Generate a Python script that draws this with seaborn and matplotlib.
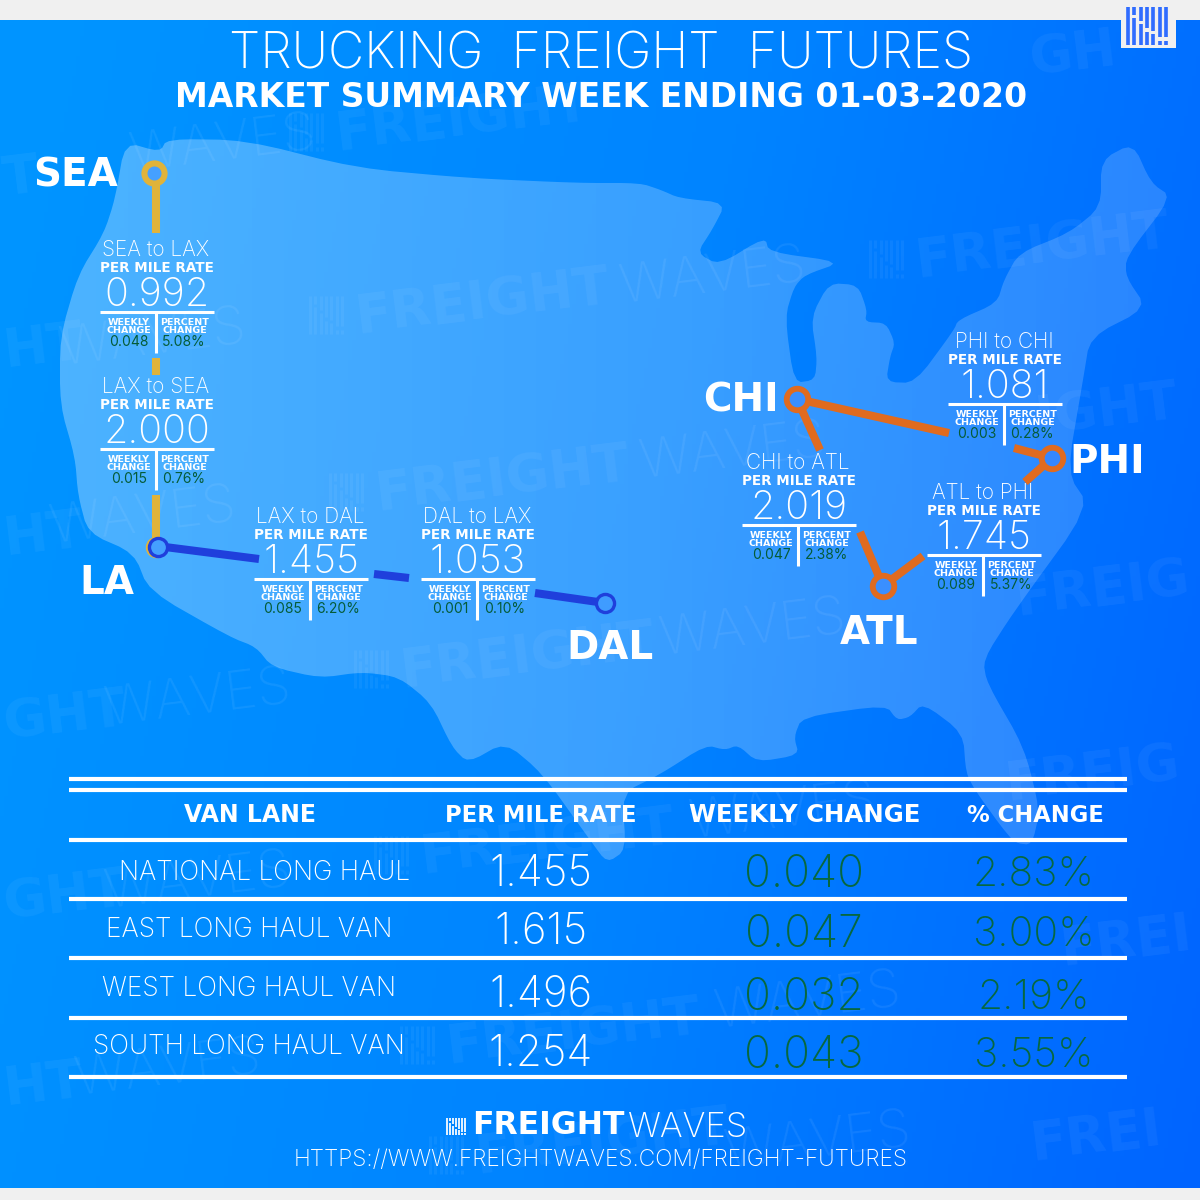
import numpy as np
import pandas as pd
import seaborn as sns
import matplotlib.pyplot as plt
from matplotlib.patches import Polygon, Rectangle

# lane cards on the map
card_names = ["SEA to LAX", "LAX to SEA", "LAX to DAL", "DAL to LAX", "PHI to CHI", "CHI to ATL", "ATL to PHI"]
card_rates = ["0.992", "2.000", "1.455", "1.053", "1.081", "2.019", "1.745"]
card_weekly = ["0.048", "0.015", "0.085", "0.001", "0.003", "0.047", "0.089"]
card_percent = ["5.08%", "0.76%", "6.20%", "0.10%", "0.28%", "2.38%", "5.37%"]

# summary table
table_headers = ["VAN LANE", "PER MILE RATE", "WEEKLY CHANGE", "% CHANGE"]
table_lanes = ["NATIONAL LONG HAUL", "EAST LONG HAUL VAN", "WEST LONG HAUL VAN", "SOUTH LONG HAUL VAN"]
table_rates = ["1.455", "1.615", "1.496", "1.254"]
table_weekly = ["0.040", "0.047", "0.032", "0.043"]
table_percent = ["2.83%", "3.00%", "2.19%", "3.55%"]

# layout, in image pixels
card_anchor = [(156, 312), (156, 449), (310, 579), (477, 579), (1004, 404), (798, 525), (983, 555)]
table_rules = [779, 790, 840, 899, 958, 1018, 1077]
header_x = [250, 541, 805, 1035]
header_size = [17, 16.4, 17.6, 16.3]
lane_x = [265, 249, 249, 249]
lane_y = [871, 928, 987, 1045]
rate_y = [871, 929, 992, 1051]
change_y = [871, 931, 994, 1052]

GOLD = "#e0b33a"
NAVY = "#1f3fdc"
ORANGE = "#e06b1f"
GREEN = "#07683f"
GREY = "#f0f0f0"
LIGHT_FONT = ["Inter", "DejaVu Sans"]
HEAVY_FONT = ["DejaVu Sans"]

route_parts = [
    (GOLD, [(156, 180), (156, 233)]),
    (GOLD, [(156, 358), (156, 375)]),
    (GOLD, [(156, 495), (156, 540)]),
    (NAVY, [(165, 547), (259, 559)]),
    (NAVY, [(374, 574), (409, 578)]),
    (NAVY, [(535, 593), (598, 602)]),
    (ORANGE, [(797, 399), (949, 433)]),
    (ORANGE, [(797, 399), (820, 450)]),
    (ORANGE, [(1014, 448), (1052, 458)]),
    (ORANGE, [(1052, 458), (1025, 482)]),
    (ORANGE, [(860, 532), (883, 586)]),
    (ORANGE, [(883, 586), (923, 556)]),
]
city_names = ["SEA", "LA", "DAL", "CHI", "PHI", "ATL"]
city_label_xy = [(76, 174), (107, 581), (610, 646), (741, 399), (1107, 460), (879, 631)]
node_xy = [(154, 173), (156, 547), (158, 547), (605, 603), (797, 399), (1052, 458), (883, 586)]
node_color = [GOLD, GOLD, NAVY, NAVY, ORANGE, ORANGE, ORANGE]
node_fill = ["#45a0ff", "#45a0ff", "#45a0ff", "#3f9cff", "#3a8fff", "#3487ff", "#3a8fff"]
node_stroke = [4.4, 2.4, 2.4, 2.4, 4.2, 4.2, 4.2]
node_size = [210, 170, 170, 170, 240, 240, 240]

usa_outline = [
    (125, 142), (160, 152), (167, 139), (245, 140), (356, 168), (467, 178), (578, 183), (640, 183),
    (661, 190), (679, 198), (726, 203), (712, 230), (697, 253), (719, 265), (765, 237), (769, 252),
    (842, 262), (805, 275), (794, 287), (785, 317), (794, 383), (815, 380), (817, 357), (811, 317),
    (829, 283), (858, 285), (867, 310), (865, 322), (886, 323), (895, 343), (890, 357), (886, 382),
    (915, 383), (954, 330), (958, 320), (997, 303), (1004, 280), (1019, 253), (1069, 233), (1101, 207),
    (1101, 160), (1133, 143), (1151, 183), (1172, 197), (1126, 257), (1126, 277), (1147, 308), (1090, 337),
    (1083, 380), (1067, 473), (1090, 507), (1013, 613), (983, 660), (987, 683), (1024, 747), (1040, 810),
    (1032, 845), (1015, 843), (1000, 825), (975, 790), (966, 773), (963, 733), (923, 703), (910, 717),
    (897, 720), (886, 705), (802, 717), (794, 737), (799, 755), (757, 762), (738, 745), (725, 750),
    (706, 745), (659, 775), (622, 793), (626, 850), (607, 863), (590, 840), (542, 773), (505, 742),
    (468, 763), (452, 747), (431, 703), (399, 677), (362, 672), (320, 678), (272, 667), (256, 647),
    (230, 637), (149, 591), (134, 553), (88, 533), (78, 495), (75, 457), (60, 405), (60, 337),
    (78, 275), (104, 233), (115, 199),
]
# faint background wordmark pieces, all kept inside the page
wm_heavy = [
    (335, 135, "FREIGHT"), (355, 318, "FREIGHT"), (375, 495, "FREIGHT"), (400, 672, "FREIGHT"), (915, 262, "FREIGHT"),
    (420, 858, "FREIGHT"), (446, 1048, "FREIGHT"), (1035, 420, "IGHT"), (1015, 600, "FREIG"), (1005, 785, "FREIG"),
    (1060, 950, "FREI"), (1030, 1145, "FREI"), (475, 1158, "FREIGHT"), (1030, 60, "GH"), (3, 180, "T"),
    (3, 352, "HT"), (3, 540, "HT"), (3, 725, "GHT"), (3, 905, "GHT"), (3, 1090, "HT"),
]
wm_light = [
    (130, 158, "WAVES"), (620, 290, "WAVES"), (640, 465, "WAVES"), (660, 642, "WAVES"), (60, 352, "WAVES"),
    (50, 530, "WAVES"), (105, 712, "WAVES"), (105, 895, "WAVES"), (75, 1082, "WAVES"), (690, 825, "WAVES"),
    (715, 1015, "WAVES"), (725, 1155, "WAVES"),
]
logo_bars = [(0, 0.0, 1.0), (1, 0.0, 0.72), (1, 0.8, 1.0), (2, 0.0, 0.55), (2, 0.62, 1.0), (3, 0.0, 0.35),
             (3, 0.45, 1.0), (4, 0.0, 0.28), (4, 0.38, 1.0), (5, 0.0, 0.1), (5, 0.2, 1.0), (6, 0.0, 0.1),
             (6, 0.2, 1.0)]

sns.set_theme(style="white")
plt.rcParams["font.family"] = LIGHT_FONT


def smooth(points, rounds=2):
    # corner cutting so the outline is not too angular
    pts = np.array(points, dtype=float)
    for _ in range(rounds):
        nxt = np.roll(pts, -1, axis=0)
        pts = np.column_stack([0.8 * pts + 0.2 * nxt, 0.2 * pts + 0.8 * nxt]).reshape(-1, 2)
    return pts


def draw_logo(ax, x, y, width, height, color, alpha=1.0, zorder=6):
    step = width / 7
    for col, start, end in logo_bars:
        ax.vlines(x + step * (col + 0.5), y + height * (1 - end), y + height * (1 - start),
                  color=color, linewidth=step * 0.42, alpha=alpha, zorder=zorder)


def light(ax, x, y, s, size, color="white", weight="light"):
    # text sits a little high with va=center, so nudge it by its size
    ax.text(x, y + size * 0.12, s, color=color, fontsize=size, fontweight=weight, family=LIGHT_FONT,
            ha="center", va="center", zorder=5)


def heavy(ax, x, y, s, size, **kw):
    ax.text(x, y + size * 0.07, s, color="white", fontsize=size, fontweight="bold", family=HEAVY_FONT,
            ha="center", va="center", zorder=5, **kw)


def draw_card(ax, i):
    cx, ry = card_anchor[i]
    light(ax, cx, ry - 64, card_names[i], 15)
    heavy(ax, cx + 1, ry - 45, "PER MILE RATE", 9.75)
    light(ax, cx + 1, ry - 20, card_rates[i], 28.5)
    ax.hlines(ry, cx - 56, cx + 58, color="white", linewidth=2.2, zorder=5)
    ax.vlines(cx, ry, ry + 41, color="white", linewidth=2.2, zorder=5)
    heavy(ax, cx - 27, ry + 14, "WEEKLY\nCHANGE", 6.8, linespacing=0.95)
    heavy(ax, cx + 29, ry + 14, "PERCENT\nCHANGE", 6.8, linespacing=0.95)
    light(ax, cx - 27, ry + 29, card_weekly[i], 10, "#055c38", "normal")
    light(ax, cx + 28, ry + 29, card_percent[i], 10, "#055c38", "normal")


fig, ax = plt.subplots(figsize=(12, 12), dpi=100)
fig.subplots_adjust(0, 0, 1, 1)

# background
xx, yy = np.meshgrid(np.linspace(0, 1, 300), np.linspace(0, 1, 300))
cmap = sns.blend_palette(["#0094ff", "#0084ff", "#0064ff"], as_cmap=True)
ax.imshow(0.88 * xx + 0.12 * yy - 0.06 * (1 - yy), cmap=cmap, extent=(0, 1200, 1200, 0), aspect="auto",
          vmin=0, vmax=1, zorder=0)

# map, a white veil that fades towards the east
outline = Polygon(smooth(usa_outline), closed=True, transform=ax.transData)
veil = ax.imshow(np.ones_like(xx), cmap="gray", vmin=0, vmax=1, extent=(0, 1200, 1200, 0), aspect="auto",
                 alpha=0.31 - 0.15 * xx, zorder=1)
veil.set_clip_path(outline)

# faint watermark
for wx, wy, text in wm_heavy:
    ax.text(wx, wy, text, color="white", alpha=0.05, fontsize=38, fontweight="bold", family=HEAVY_FONT, rotation=7,
            rotation_mode="anchor", ha="left", va="center", zorder=2)
    if text == "FREIGHT":
        draw_logo(ax, wx - 48, wy - 22, 38, 38, "white", alpha=0.05, zorder=2)
for wx, wy, text in wm_light:
    ax.text(wx, wy, text, color="white", alpha=0.07, fontsize=39, fontweight="light", family=LIGHT_FONT, rotation=7,
            rotation_mode="anchor", ha="left", va="center", zorder=2)

# page edges
ax.add_patch(Rectangle((0, 0), 1200, 20, facecolor=GREY, edgecolor="none", zorder=4))
ax.add_patch(Rectangle((0, 1188), 1200, 12, facecolor=GREY, edgecolor="none", zorder=4))
ax.add_patch(Rectangle((1121, 20), 55, 28, facecolor=GREY, edgecolor="none", zorder=4))
draw_logo(ax, 1125, 7, 44, 38, "#2f6cff")

light(ax, 601, 51, "TRUCKING  FREIGHT  FUTURES", 36)
heavy(ax, 601, 96, "MARKET SUMMARY WEEK ENDING 01-03-2020", 23.8)

# routes
for color, part in route_parts:
    route = pd.DataFrame(part, columns=["x", "y"])
    sns.lineplot(data=route, x="x", y="y", color=color, linewidth=5.8, sort=False, estimator=None,
                 solid_capstyle="butt", ax=ax, zorder=3)

nodes = pd.DataFrame(node_xy, columns=["x", "y"])
for i in range(len(nodes)):
    pts = sns.scatterplot(data=nodes.iloc[[i]], x="x", y="y", s=node_size[i], ax=ax, zorder=3.5, legend=False)
    coll = pts.collections[-1]
    coll.set_facecolor(node_fill[i])
    coll.set_edgecolor(node_color[i])
    coll.set_linewidth(node_stroke[i])

for name, (cx, cy) in zip(city_names, city_label_xy):
    heavy(ax, cx, cy, name, 28)

for i in range(len(card_names)):
    draw_card(ax, i)

# table
ax.hlines(table_rules, 69, 1127, color="white", linewidth=3, zorder=5)
for hx, text, size in zip(header_x, table_headers, header_size):
    heavy(ax, hx, 814, text, size)
for i in range(len(table_lanes)):
    light(ax, lane_x[i], lane_y[i], table_lanes[i], 18.9)
    light(ax, 541, rate_y[i], table_rates[i], 30.5)
    light(ax, 804, change_y[i], table_weekly[i], 32, GREEN)
    light(ax, 1034, change_y[i], table_percent[i], 29.5, GREEN)

# footer
draw_logo(ax, 445, 1118, 21, 17, "white")
ax.text(472, 1126, "FREIGHT", color="white", fontsize=22.7, fontweight="bold", family=HEAVY_FONT,
        ha="left", va="center", zorder=5)
ax.text(628, 1128, "WAVES", color="white", fontsize=25, fontweight="light", family=LIGHT_FONT,
        ha="left", va="center", zorder=5)
light(ax, 601, 1158, "HTTPS://WWW.FREIGHTWAVES.COM/FREIGHT-FUTURES", 16.4)

ax.set_xlim(0, 1200)
ax.set_ylim(1200, 0)
ax.set_axis_off()

fig.savefig("out.png", dpi=100)
